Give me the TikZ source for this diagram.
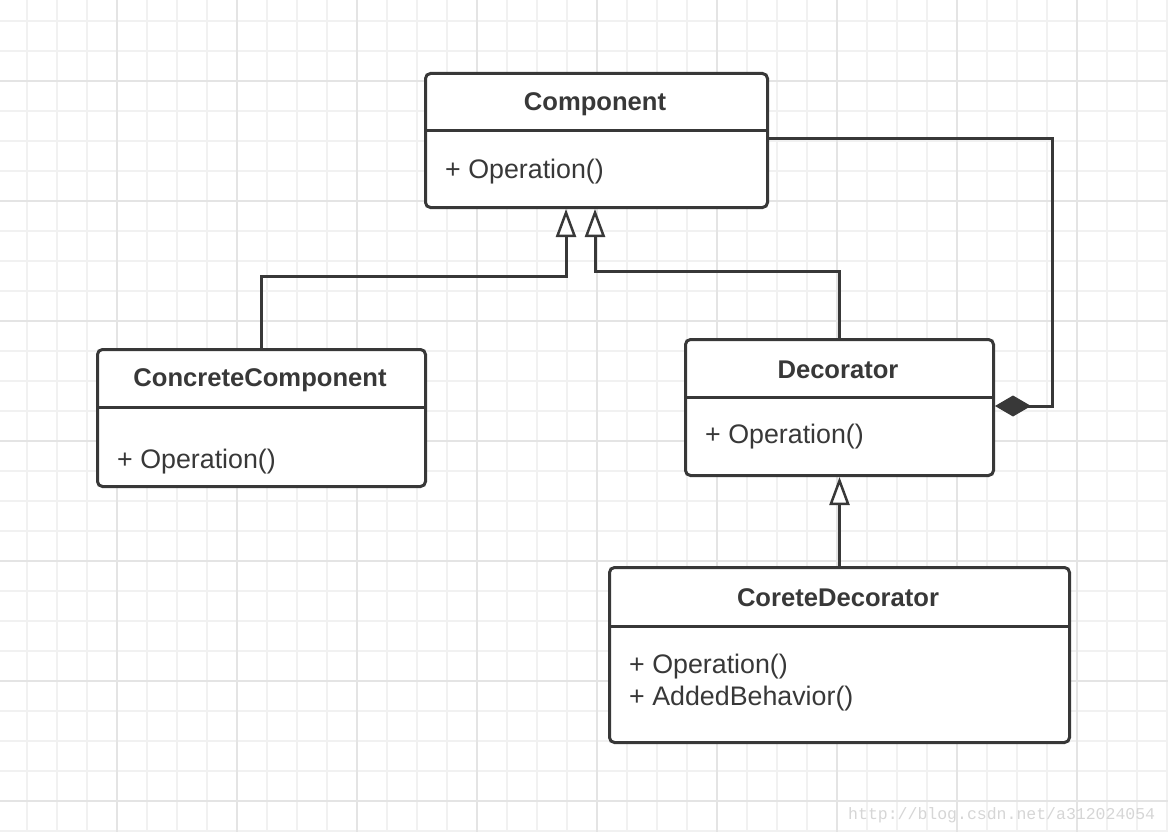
\documentclass[tikz,border=0pt]{standalone}
\usepackage{fontspec}
\setmainfont{Liberation Sans}
\newfontfamily\wmfont{Liberation Mono}
\usetikzlibrary{arrows.meta}
\definecolor{ln}{HTML}{383838}
\definecolor{gminor}{HTML}{F1F1F1}
\definecolor{gmajor}{HTML}{E4E4E4}
\definecolor{wm}{HTML}{D6D6D6}
\tikzset{
  umlbox/.style={draw=ln, line width=3pt, rounded corners=5pt, fill=white, anchor=north west, inner sep=0pt},
  sep/.style={draw=ln, line width=3pt},
  title/.style={font=\fontsize{25.6}{30}\selectfont\bfseries, text=ln, inner sep=0pt},
  opt/.style={font=\fontsize{26.8}{32}\selectfont, text=ln, anchor=west, inner sep=0pt, align=left},
  inh/.style={draw=ln, line width=3pt, -{Triangle[fill=white, length=28pt, width=20pt, line width=2.5pt]}},
  compo/.style={draw=ln, line width=3pt, -{Diamond[fill=ln, length=36pt, width=21pt, line width=1pt]}},
}
\begin{document}
\begin{tikzpicture}[x=1pt,y=-1pt]
\useasboundingbox (0,0) rectangle (1168,832);
\fill[white] (0,0) rectangle (1168,832);
% grid
\foreach \x in {27,57,...,1167} \draw[gminor, line width=2pt] (\x,0) -- (\x,832);
\foreach \y in {21,51,...,831} \draw[gminor, line width=2pt] (0,\y) -- (1168,\y);
\foreach \x in {117,237,...,1167} \draw[gmajor, line width=2pt] (\x,0) -- (\x,832);
\foreach \y in {81,201,...,831} \draw[gmajor, line width=2pt] (0,\y) -- (1168,\y);
% watermark
\node[text=wm, font=\wmfont\fontsize{16.5}{20}\selectfont, anchor=west, inner sep=0pt] (wmk) at (848,815) {http://blog.csdn.net/a312024054};

% Component
\node[umlbox, minimum width=342pt, minimum height=134pt] (comp) at (424,72) {};
\draw[sep] (comp.west |- 0,131) -- (comp.east |- 0,131);
\node[title] (compT) at (595,104) {Component};
\node[opt] (compO) at (445,172) {+ Operation()};

% ConcreteComponent
\node[umlbox, minimum width=328pt, minimum height=137pt] (cc) at (96,348) {};
\draw[sep] (cc.west |- 0,407) -- (cc.east |- 0,407);
\node[title] (ccT) at (260,380) {ConcreteComponent};
\node[opt] (ccO) at (117,462) {+ Operation()};

% Decorator
\node[umlbox, minimum width=308pt, minimum height=136pt] (dec) at (684,338) {};
\draw[sep] (dec.west |- 0,397) -- (dec.east |- 0,397);
\node[title] (decT) at (838,370) {Decorator};
\node[opt] (decO) at (705,437) {+ Operation()};

% CoreteDecorator
\node[umlbox, minimum width=460pt, minimum height=175pt] (cd) at (608,566) {};
\draw[sep] (cd.west |- 0,626) -- (cd.east |- 0,626);
\node[title] (cdT) at (838,598) {CoreteDecorator};
\node[opt] (cdO) at (629,683) {+ Operation()\\+ AddedBehavior()};

% connectors
\draw[inh] (cc.north) -- (cc.north |- 0,276) -- (566,276) -- (comp.south -| 566,0);
\draw[inh] (dec.north) -- (dec.north |- 0,271) -- (595,271) -- (comp.south -| 595,0);
\draw[inh] (cd.north) -- (dec.south);
\draw[compo] (comp.east |- 0,139) -- (1052,139) -- (1052,406) -- (dec.east |- 0,406);
\end{tikzpicture}
\end{document}
